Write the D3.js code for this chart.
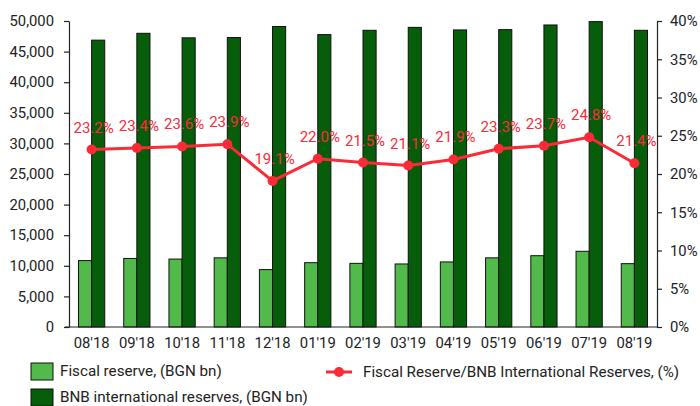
<!DOCTYPE html>
<html>
<head>
<meta charset="utf-8">
<script src="https://cdn.jsdelivr.net/npm/d3@7"></script>
<style>
  body { margin: 0; background: #fff; }
  svg text { font-family: Roboto, "Noto Sans", sans-serif; }
</style>
</head>
<body>
<div id="chart"></div>
<script>
const months = ["08'18", "09'18", "10'18", "11'18", "12'18", "01'19", "02'19", "03'19", "04'19", "05'19", "06'19", "07'19", "08'19"];
const fiscalReserve = [10850, 11200, 11100, 11300, 9380, 10510, 10400, 10300, 10630, 11300, 11650, 12370, 10350];
const bnbReserves = [46870, 47990, 47250, 47300, 49100, 47780, 48480, 48960, 48540, 48590, 49350, 49900, 48480];
const ratioPct = [23.2, 23.4, 23.6, 23.9, 19.1, 22.0, 21.5, 21.1, 21.9, 23.3, 23.7, 24.8, 21.4];
const leftTicks = [0, 5000, 10000, 15000, 20000, 25000, 30000, 35000, 40000, 45000, 50000];
const rightTicks = [0, 5, 10, 15, 20, 25, 30, 35, 40];

const W = 700, H = 406;
const margin = { left: 69, right: 43, top: 21, bottom: 79 };
const innerW = W - margin.left - margin.right;
const innerH = H - margin.top - margin.bottom;

const LIGHT = '#52b94b';
const DARK = '#065e0b';
const RED = '#fb2a37';
const TEXT = '#222';

const svg = d3.select('#chart').append('svg').attr('width', W).attr('height', H);
const g = svg.append('g').attr('transform', `translate(${margin.left},${margin.top})`);

const x = d3.scaleBand().domain(months).range([0, innerW]).paddingInner(0.42).paddingOuter(0.21);
const yL = d3.scaleLinear().domain([0, 50000]).range([innerH, 0]);
const yR = d3.scaleLinear().domain([0, 40]).range([innerH, 0]);
const half = x.bandwidth() / 2;

// bars
g.selectAll('rect.fiscal')
  .data(months)
  .join('rect')
  .attr('class', 'fiscal')
  .attr('x', (d) => x(d))
  .attr('y', (d, i) => yL(fiscalReserve[i]))
  .attr('width', half)
  .attr('height', (d, i) => innerH - yL(fiscalReserve[i]))
  .attr('fill', LIGHT)
  .attr('stroke', '#111')
  .attr('stroke-width', 1);

g.selectAll('rect.bnb')
  .data(months)
  .join('rect')
  .attr('class', 'bnb')
  .attr('x', (d) => x(d) + half)
  .attr('y', (d, i) => yL(bnbReserves[i]))
  .attr('width', half)
  .attr('height', (d, i) => innerH - yL(bnbReserves[i]))
  .attr('fill', DARK)
  .attr('stroke', '#111')
  .attr('stroke-width', 1);

// axes
const styleAxis = (sel) => {
  sel.selectAll('path, line').attr('stroke', '#222').attr('stroke-width', 1.2);
  sel.selectAll('text').attr('fill', TEXT).attr('font-size', 14.8);
};

g.append('g')
  .call(d3.axisLeft(yL).tickValues(leftTicks).tickFormat(d3.format(',')).tickSize(5).tickPadding(10).tickSizeOuter(0))
  .call(styleAxis);

g.append('g')
  .attr('transform', `translate(${innerW},0)`)
  .call(d3.axisRight(yR).tickValues(rightTicks).tickFormat((d) => d + '%').tickSize(5).tickPadding(8).tickSizeOuter(0))
  .call(styleAxis);

g.append('g')
  .attr('transform', `translate(0,${innerH})`)
  .call(d3.axisBottom(x).tickSize(0).tickPadding(10).tickSizeOuter(0))
  .call(styleAxis)
  .call((a) => a.select('path').attr('d', `M-4,0H${innerW}`));

// ratio line
const cx = (d) => x(d) + half;
const line = d3.line().x((d) => cx(d)).y((d, i) => yR(ratioPct[i]));
g.append('path')
  .datum(months)
  .attr('d', line)
  .attr('fill', 'none')
  .attr('stroke', RED)
  .attr('stroke-width', 3);

g.selectAll('circle.pt')
  .data(months)
  .join('circle')
  .attr('class', 'pt')
  .attr('cx', cx)
  .attr('cy', (d, i) => yR(ratioPct[i]))
  .attr('r', 5)
  .attr('fill', RED);

g.selectAll('text.lbl')
  .data(months)
  .join('text')
  .attr('class', 'lbl')
  .attr('x', (d) => cx(d) + 2)
  .attr('y', (d, i) => yR(ratioPct[i]) - 17)
  .attr('text-anchor', 'middle')
  .attr('fill', RED)
  .attr('font-size', 15)
  .text((d, i) => d3.format('.1f')(ratioPct[i]) + '%');

// legend
const legend = svg.append('g');
const squares = [
  { label: 'Fiscal reserve, (BGN bn)', color: LIGHT, y: 363 },
  { label: 'BNB international reserves, (BGN bn)', color: DARK, y: 389 }
];
squares.forEach((s) => {
  legend.append('rect').attr('x', 31).attr('y', s.y).attr('width', 22).attr('height', 17)
    .attr('fill', s.color).attr('stroke', '#111').attr('stroke-width', 1);
  legend.append('text').attr('x', 60).attr('y', s.y + 13).attr('fill', TEXT).attr('font-size', 15.2).text(s.label);
});
legend.append('line').attr('x1', 326).attr('x2', 352).attr('y1', 372).attr('y2', 372)
  .attr('stroke', RED).attr('stroke-width', 3);
legend.append('circle').attr('cx', 339).attr('cy', 372).attr('r', 5).attr('fill', RED);
legend.append('text').attr('x', 363).attr('y', 377).attr('fill', TEXT).attr('font-size', 15.2)
  .text('Fiscal Reserve/BNB International Reserves, (%)');
</script>
</body>
</html>
